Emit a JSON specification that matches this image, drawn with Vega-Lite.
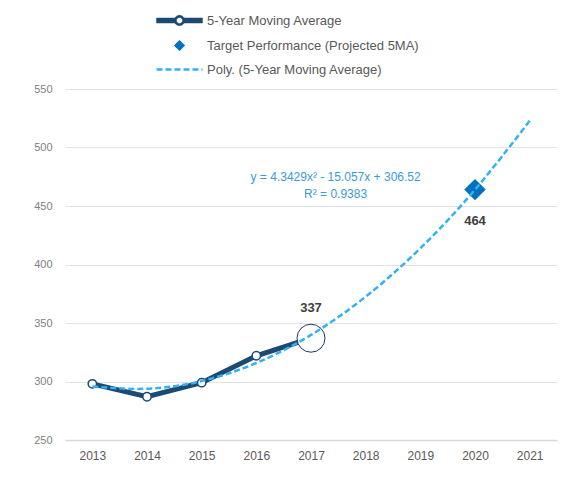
{
  "$schema": "https://vega.github.io/schema/vega-lite/v6.json",
  "autosize": {"type": "none"},
  "padding": {"left": 65, "top": 89, "right": 10, "bottom": 43},
  "width": 492,
  "height": 351,
  "background": "white",
  "datasets": {
    "ma": [
      {"year": 2013, "value": 298, "series": "5-Year Moving Average"},
      {"year": 2014, "value": 287, "series": "5-Year Moving Average"},
      {"year": 2015, "value": 299, "series": "5-Year Moving Average"},
      {"year": 2016, "value": 322, "series": "5-Year Moving Average"},
      {"year": 2017, "value": 337, "series": "5-Year Moving Average"}
    ],
    "trend": [
      {"year": 2013, "value": 295.8, "series": "Poly. (5-Year Moving Average)"},
      {"year": 2014, "value": 293.8, "series": "Poly. (5-Year Moving Average)"},
      {"year": 2015, "value": 300.4, "series": "Poly. (5-Year Moving Average)"},
      {"year": 2016, "value": 315.8, "series": "Poly. (5-Year Moving Average)"},
      {"year": 2017, "value": 339.8, "series": "Poly. (5-Year Moving Average)"},
      {"year": 2018, "value": 372.5, "series": "Poly. (5-Year Moving Average)"},
      {"year": 2019, "value": 413.9, "series": "Poly. (5-Year Moving Average)"},
      {"year": 2020, "value": 464.0, "series": "Poly. (5-Year Moving Average)"},
      {"year": 2021, "value": 522.8, "series": "Poly. (5-Year Moving Average)"}
    ],
    "target": [
      {"year": 2020, "value": 464, "series": "Target Performance (Projected 5MA)", "label": "464"}
    ],
    "last": [
      {"year": 2017, "value": 337, "label": "337"}
    ],
    "eq": [
      {"year": 2017.45, "value": 474.6, "text": "y = 4.3429x² - 15.057x + 306.52"},
      {"year": 2017.45, "value": 460.0, "text": "R² = 0.9383"}
    ]
  },
  "encoding": {
    "x": {
      "field": "year", "type": "quantitative",
      "scale": {"domain": [2012.5, 2021.5], "nice": false, "zero": false},
      "axis": {
        "title": null, "values": [2013, 2014, 2015, 2016, 2017, 2018, 2019, 2020, 2021],
        "format": "d", "grid": false, "ticks": false, "domain": true,
        "domainColor": "#D9D9D9", "domainWidth": 1.5, "labelPadding": 10,
        "labelFontSize": 12, "labelColor": "#595959", "labelFont": "Liberation Sans"
      }
    },
    "y": {
      "field": "value", "type": "quantitative",
      "scale": {"domain": [250, 550], "nice": false, "zero": false},
      "axis": {
        "title": null, "values": [250, 300, 350, 400, 450, 500, 550],
        "grid": true, "gridColor": "#E3E3E3", "gridWidth": 1, "ticks": false, "domain": false,
        "labelPadding": 13, "labelFontSize": 11, "labelColor": "#7F7F7F", "labelFont": "Liberation Sans"
      }
    }
  },
  "layer": [
    {
      "data": {"name": "ma"},
      "mark": {"type": "line", "strokeWidth": 5, "color": "#1B4A72"},
      "encoding": {
        "color": {
          "field": "series", "type": "nominal",
          "scale": {
            "domain": ["5-Year Moving Average", "Target Performance (Projected 5MA)", "Poly. (5-Year Moving Average)"],
            "range": ["#1B4A72", "#0070C0", "#33B1F2"]
          },
          "legend": {
            "title": null, "orient": "none", "legendX": 108, "legendY": -75,
            "direction": "vertical", "symbolSize": 400, "labelOffset": 21,
            "rowPadding": 8, "labelFontSize": 13, "labelColor": "#595959",
            "labelFont": "Liberation Sans", "labelLimit": 400,
            "encode": {
              "symbols": {
                "update": {
                  "shape": {"signal": "datum.value === '5-Year Moving Average' ? 'M-2.3,-0.25L-0.45,-0.25L-0.45,0.25L-2.3,0.25ZM0.45,-0.25L2.3,-0.25L2.3,0.25L0.45,0.25ZM-0.52,0A0.52,0.52,0,1,1,0.52,0A0.52,0.52,0,1,1,-0.52,0ZM-0.3,0A0.3,0.3,0,1,0,0.3,0A0.3,0.3,0,1,0,-0.3,0Z' : datum.value === 'Target Performance (Projected 5MA)' ? 'M0,-0.38L0.38,0L0,0.38L-0.38,0Z' : 'M-2.3,0L2.3,0'"},
                  "fill": {"signal": "datum.value === '5-Year Moving Average' ? '#1B4A72' : datum.value === 'Target Performance (Projected 5MA)' ? '#0070C0' : 'transparent'"},
                  "stroke": {"signal": "datum.value === '5-Year Moving Average' ? '#1B4A72' : datum.value === 'Target Performance (Projected 5MA)' ? 'transparent' : '#33B1F2'"},
                  "strokeWidth": {"signal": "datum.value === '5-Year Moving Average' ? 0.5 : 2.5"},
                  "strokeDash": {"signal": "datum.value === 'Poly. (5-Year Moving Average)' ? [6, 3] : [1, 0]"},
                  "opacity": {"value": 1},
                  "fillOpacity": {"value": 1},
                  "strokeOpacity": {"value": 1}
                }
              }
            }
          }
        }
      }
    },
    {
      "data": {"name": "ma"},
      "mark": {"type": "point", "shape": "circle", "filled": false, "fill": "white", "fillOpacity": 1, "stroke": "#1B4A72", "strokeWidth": 1.5, "size": 70, "opacity": 1}
    },
    {
      "data": {"name": "last"},
      "mark": {"type": "point", "shape": "circle", "filled": false, "fill": "white", "fillOpacity": 1, "stroke": "#1F3864", "strokeWidth": 1, "size": 784, "opacity": 1}
    },
    {
      "data": {"name": "target"},
      "mark": {"type": "point", "shape": "diamond", "filled": true, "size": 460, "opacity": 1},
      "encoding": {"color": {"field": "series", "type": "nominal", "legend": null}}
    },
    {
      "data": {"name": "trend"},
      "mark": {"type": "line", "strokeWidth": 2.5, "strokeDash": [6, 3], "interpolate": "natural"},
      "encoding": {"color": {"field": "series", "type": "nominal", "legend": null}}
    },
    {
      "data": {"name": "last"},
      "mark": {"type": "text", "dy": -30, "baseline": "middle", "align": "center", "fontSize": 13, "fontWeight": "bold", "color": "#404040", "font": "Liberation Sans"},
      "encoding": {"text": {"field": "label"}}
    },
    {
      "data": {"name": "target"},
      "mark": {"type": "text", "dy": 31, "baseline": "middle", "align": "center", "fontSize": 13, "fontWeight": "bold", "color": "#404040", "font": "Liberation Sans"},
      "encoding": {"text": {"field": "label"}}
    },
    {
      "data": {"name": "eq"},
      "mark": {"type": "text", "baseline": "middle", "align": "center", "fontSize": 12, "color": "#3A9AD9", "font": "Liberation Sans"},
      "encoding": {"text": {"field": "text"}}
    }
  ],
  "config": {
    "view": {"stroke": null},
    "font": "Liberation Sans"
  }
}
